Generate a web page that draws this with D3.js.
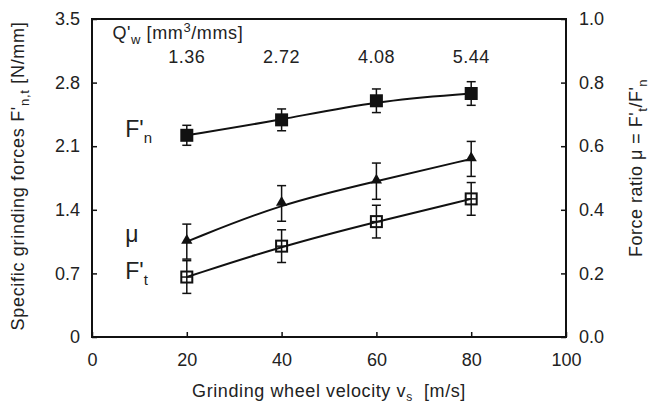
<!DOCTYPE html>
<html>
<head>
<meta charset="utf-8">
<script src="https://cdn.jsdelivr.net/npm/d3@7"></script>
<style>
  body { margin: 0; background: #fff; }
  svg { font-family: "Liberation Sans", Arial, sans-serif; }
</style>
</head>
<body>
<svg width="656" height="406"></svg>
<script>
// data
var velocity = [20, 40, 60, 80];            // v_s [m/s]
var qw = ["1.36", "2.72", "4.08", "5.44"];  // Q'w at each velocity
var fn = [2.22, 2.39, 2.60, 2.68];          // F'n [N/mm]
var fnErr = [0.11, 0.12, 0.13, 0.13];
var ft = [0.66, 1.00, 1.27, 1.52];          // F't [N/mm]
var ftErr = [0.18, 0.18, 0.18, 0.18];
var mu = [0.30, 0.42, 0.49, 0.56];          // force ratio (right axis)
var muErr = [0.055, 0.056, 0.057, 0.055];

var leftTicks = [0, 0.7, 1.4, 2.1, 2.8, 3.5];
var rightTicks = [0, 0.2, 0.4, 0.6, 0.8, 1.0];
var xTicks = [0, 20, 40, 60, 80, 100];

var svg = d3.select("svg"),
    margin = {top: 19, right: 90, bottom: 69, left: 92},
    width = +svg.attr("width") - margin.left - margin.right,
    height = +svg.attr("height") - margin.top - margin.bottom,
    g = svg.append("g").attr("transform", "translate(" + margin.left + "," + margin.top + ")");

var x = d3.scaleLinear().domain([0, 100]).range([0, width]);
var yL = d3.scaleLinear().domain([0, 3.5]).range([height, 0]);
var yR = d3.scaleLinear().domain([0, 1]).range([height, 0]);

// frame
g.append("rect")
    .attr("width", width).attr("height", height)
    .attr("fill", "none").attr("stroke", "#111").attr("stroke-width", 2);

function styleAxis(sel) {
  sel.select(".domain").remove();
  sel.selectAll(".tick line").attr("stroke", "#111").attr("stroke-width", 1.5);
  sel.selectAll(".tick text").attr("fill", "#222").style("font-size", "18px");
}

g.append("g")
    .attr("transform", "translate(0," + height + ")")
    .call(d3.axisBottom(x).tickValues(xTicks).tickSize(-5).tickPadding(16))
    .call(styleAxis);

g.append("g")
    .call(d3.axisLeft(yL).tickValues(leftTicks).tickSize(-5).tickPadding(12)
      .tickFormat(function(d) { return d === 0 ? "0" : d3.format(".1f")(d); }))
    .call(styleAxis);

g.append("g")
    .attr("transform", "translate(" + width + ",0)")
    .call(d3.axisRight(yR).tickValues(rightTicks).tickSize(-5).tickPadding(13).tickFormat(d3.format(".1f")))
    .call(styleAxis);

// Q'w labels on top
var qGroup = g.append("g").attr("fill", "#222").style("font-size", "18px");
var qlab = qGroup.append("text").attr("x", x(4.3)).attr("y", 20).style("letter-spacing", "0.6px");
qlab.append("tspan").text("Q'");
qlab.append("tspan").attr("dy", 5).style("font-size", "13px").text("w");
qlab.append("tspan").attr("dy", -5).text(" [mm");
qlab.append("tspan").attr("dy", -7).style("font-size", "13px").text("3");
qlab.append("tspan").attr("dy", 7).text("/mms]");

qGroup.selectAll(".q").data(velocity).enter().append("text")
    .attr("x", function(d) { return x(d); })
    .attr("y", 44)
    .attr("text-anchor", "middle")
    .style("letter-spacing", "0.5px")
    .text(function(d, i) { return qw[i]; });

var line = d3.line().curve(d3.curveBasis);

function drawSeries(vals, errs, yScale, marker) {
  var pts = velocity.map(function(v, i) { return [x(v), yScale(vals[i])]; });
  g.append("path")
      .datum(pts)
      .attr("fill", "none").attr("stroke", "#111").attr("stroke-width", 2)
      .attr("d", line);

  var eb = g.append("g").attr("stroke", "#111").attr("stroke-width", 1.5);
  velocity.forEach(function(v, i) {
    var cx = x(v), lo = yScale(vals[i] - errs[i]), hi = yScale(vals[i] + errs[i]);
    eb.append("line").attr("x1", cx).attr("x2", cx).attr("y1", lo).attr("y2", hi);
    eb.append("line").attr("x1", cx - 4.5).attr("x2", cx + 4.5).attr("y1", lo).attr("y2", lo);
    eb.append("line").attr("x1", cx - 4.5).attr("x2", cx + 4.5).attr("y1", hi).attr("y2", hi);
  });

  var m = g.append("g");
  pts.forEach(function(p) {
    if (marker === "fill") {
      m.append("rect").attr("x", p[0] - 6.5).attr("y", p[1] - 6.5)
          .attr("width", 13).attr("height", 13).attr("fill", "#111");
    } else if (marker === "open") {
      m.append("rect").attr("x", p[0] - 5.5).attr("y", p[1] - 5.5)
          .attr("width", 11).attr("height", 11)
          .attr("fill", "none").attr("stroke", "#111").attr("stroke-width", 2);
      m.append("line").attr("x1", p[0] - 5).attr("x2", p[0] + 5)
          .attr("y1", p[1]).attr("y2", p[1]).attr("stroke", "#111").attr("stroke-width", 1.5);
    } else {
      m.append("path")
          .attr("d", d3.symbol(d3.symbolTriangle, 55)())
          .attr("transform", "translate(" + p[0] + "," + (p[1] - 1) + ")")
          .attr("fill", "#111");
    }
  });
}

drawSeries(fn, fnErr, yL, "fill");
drawSeries(mu, muErr, yR, "tri");
drawSeries(ft, ftErr, yL, "open");

// series labels
function seriesLabel(txt, sub, xv, yv) {
  var t = g.append("text").attr("x", x(xv)).attr("y", yL(yv))
      .attr("fill", "#222").style("font-size", "23px");
  t.append("tspan").text(txt);
  if (sub) t.append("tspan").attr("dy", 6).style("font-size", "15px").text(sub);
}
seriesLabel("F'", "n", 7, 2.20);
seriesLabel("\u03bc", null, 7, 1.05);
seriesLabel("F'", "t", 7, 0.64);

// axis titles
var xt = svg.append("text")
    .attr("x", margin.left + width / 2).attr("y", 397)
    .attr("text-anchor", "middle").attr("fill", "#222")
    .style("font-size", "18px").style("letter-spacing", "0.6px");
xt.append("tspan").text("Grinding wheel velocity v");
xt.append("tspan").attr("dy", 4).style("font-size", "12px").text("s");
xt.append("tspan").attr("dy", -4).text("\u00a0 [m/s]");

var lt = svg.append("text")
    .attr("transform", "translate(24," + 176 + ") rotate(-90)")
    .attr("text-anchor", "middle").attr("fill", "#222")
    .style("font-size", "18px").style("letter-spacing", "0.7px");
lt.append("tspan").text("Specific grinding forces F'");
lt.append("tspan").attr("dy", 5).style("font-size", "13px").text("n,t");
lt.append("tspan").attr("dy", -5).text(" [N/mm]");

var rt = svg.append("text")
    .attr("transform", "translate(642," + 168 + ") rotate(-90)")
    .attr("text-anchor", "middle").attr("fill", "#222")
    .style("font-size", "18px").style("letter-spacing", "0.5px");
rt.append("tspan").text("Force ratio \u03bc = F'");
rt.append("tspan").attr("dy", 5).style("font-size", "13px").text("t");
rt.append("tspan").attr("dy", -5).text("/F'");
rt.append("tspan").attr("dy", 5).style("font-size", "13px").text("n");
</script>
</body>
</html>
